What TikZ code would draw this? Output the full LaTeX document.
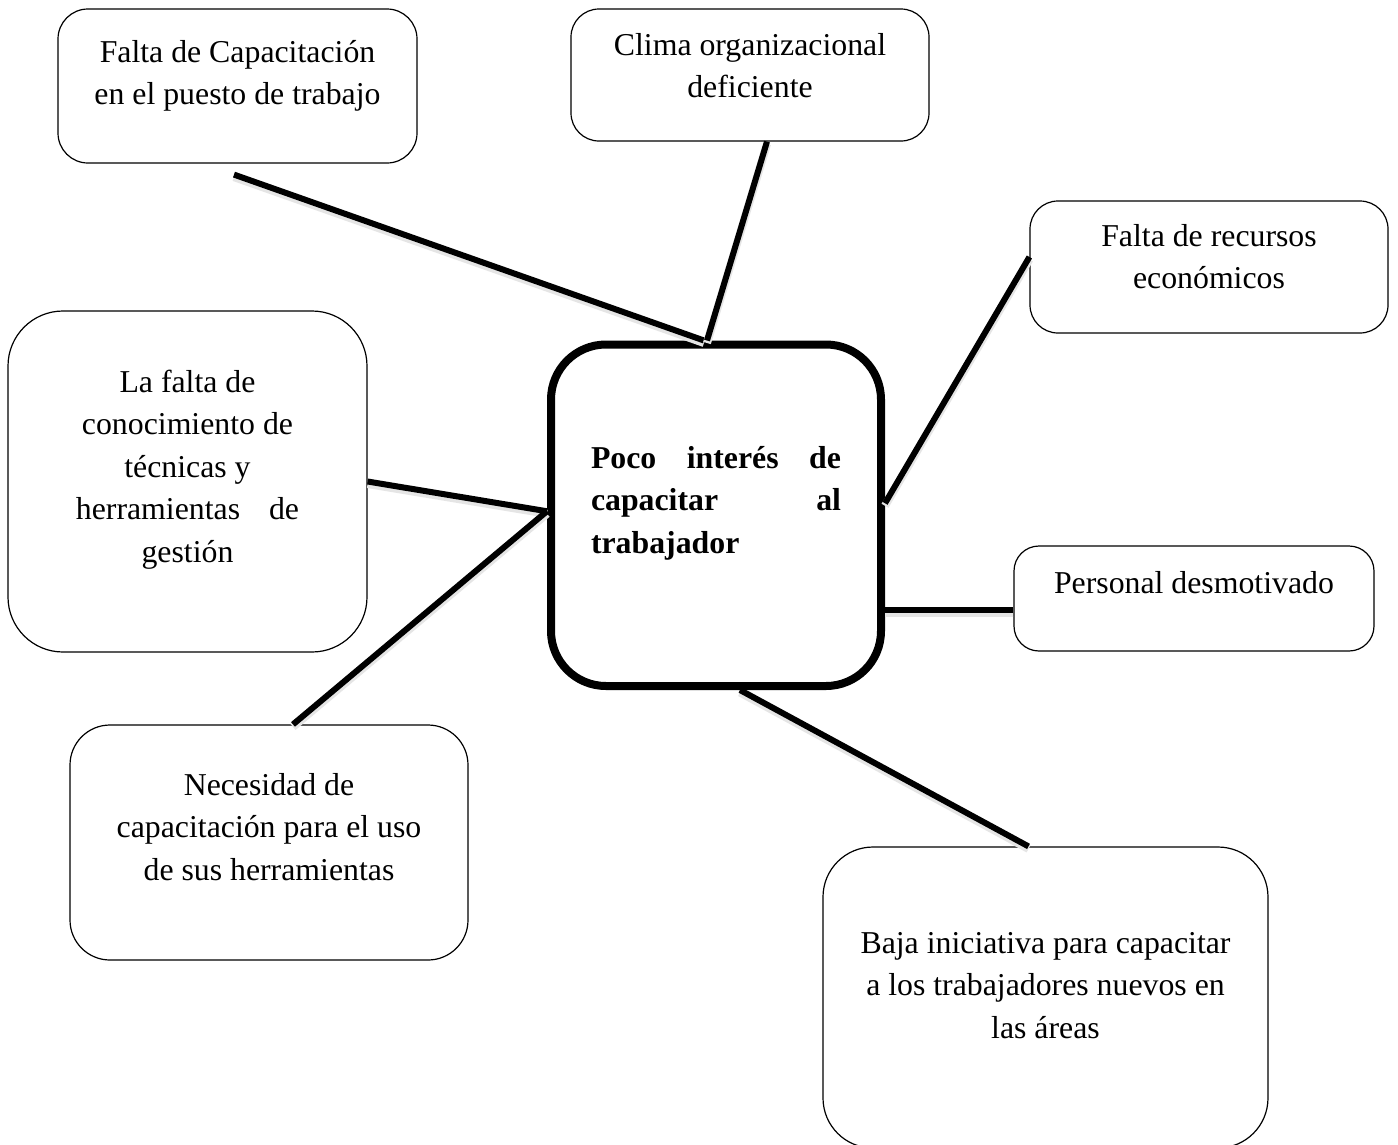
\documentclass[tikz,border=0pt]{standalone}
\usepackage{fontspec}
\setmainfont{Liberation Serif}
\newcommand\bxtext[4]{\begin{minipage}[c][#2][t]{#1}\centering\vspace*{#3}\strut #4\end{minipage}}
\begin{document}
\begin{tikzpicture}[x=1pt,y=-1pt,
  font=\fontsize{31.8}{42.5}\selectfont,
  causebox/.style={draw=black, line width=1.2pt, inner sep=0pt, fill=white},
  corebox/.style={draw=black, line width=8pt, fill=white, inner xsep=40pt, inner ysep=0pt, rounded corners=55pt},
  link/.style={line width=6pt, draw=black,
    preaction={draw=black!10, line width=8pt, transform canvas={yshift=-2.5pt}}}]
\useasboundingbox (0,0) rectangle (1398,1144);
\clip (0,0) rectangle (1398,1144);
\fill[white] (0,0) rectangle (1398,1144);

% boxes
\node[causebox, rounded corners=30pt] (b1) at (237.5,86)
  {\bxtext{359pt}{154pt}{23.25pt}{Falta de Capacitación\\en el puesto de trabajo}};
\node[causebox, rounded corners=28pt] (b2) at (750,75)
  {\bxtext{358pt}{132pt}{16.25pt}{Clima organizacional\\deficiente}};
\node[causebox, rounded corners=28pt] (b3) at (1209,267)
  {\bxtext{358pt}{132pt}{15.25pt}{Falta de recursos\\económicos}};
\node[causebox, rounded corners=55pt] (b4) at (187.5,481.5)
  {\bxtext{359pt}{341pt}{51.25pt}{La falta de\\conocimiento de\\técnicas y\\herramientas\hspace{21pt} de\\gestión}};
\node[causebox, rounded corners=25pt] (b5) at (1194,598.5)
  {\bxtext{360pt}{105pt}{17.25pt}{Personal desmotivado}};
\node[causebox, rounded corners=40pt] (b6) at (269,842.5)
  {\bxtext{398pt}{235pt}{40.25pt}{Necesidad de\\capacitación para el uso\\de sus herramientas}};
\node[causebox, rounded corners=50pt] (b7) at (1045.5,997.5)
  {\bxtext{445pt}{301pt}{76.25pt}{Baja iniciativa para capacitar\\a los trabajadores nuevos en\\las áreas}};

% central node
\node[corebox] (ctr) at (716,515.25)
  {\begin{minipage}[c][341.5pt][t]{250pt}\vspace*{93.75pt}\bfseries\strut\makebox[\linewidth][s]{Poco interés de}\\\makebox[\linewidth][s]{capacitar al}\\trabajador\end{minipage}};

% connectors
\coordinate (p4) at ([yshift=-11.5pt]b5.west);
\draw[link] ([xshift=-3.5pt,yshift=-11pt]b1.south) -- ([xshift=-12pt]ctr.north);
\draw[link] ([xshift=17pt]b2.south) -- ([xshift=-9pt]ctr.north);
\draw[link] ([yshift=10pt]b3.west) -- ([yshift=12pt]ctr.east);
\draw[link] (p4) -- (p4 -| ctr.east);
\draw[link] ([xshift=24pt]ctr.south) -- ([xshift=-17pt]b7.north);
\draw[link] (b4.east) -- ([yshift=4pt]ctr.west);
\draw[link] ([yshift=4pt]ctr.west) -- ([xshift=24pt]b6.north);
\end{tikzpicture}
\end{document}
